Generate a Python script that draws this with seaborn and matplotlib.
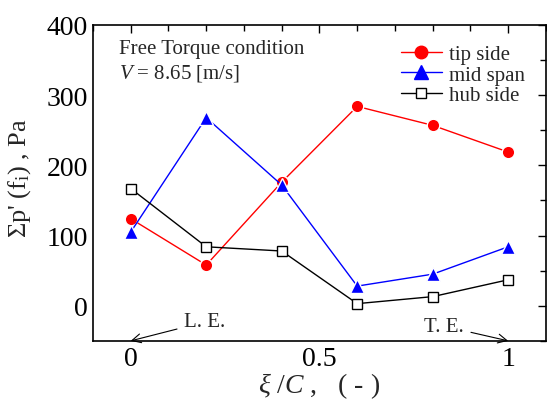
import matplotlib
matplotlib.use("Agg")
import matplotlib.pyplot as plt
import seaborn as sns
import pandas as pd
from matplotlib.ticker import MultipleLocator
from matplotlib.lines import Line2D

xi = [0.0, 0.2, 0.4, 0.6, 0.8, 1.0]
tip_side = [124, 58, 176, 284, 257, 219]
mid_span = [105, 268, 172, 28, 45, 84]
hub_side = [167, 84, 78, 3, 13, 37]
series_names = ["tip side", "mid span", "hub side"]

sns.set_style("white")
plt.rcParams["font.family"] = ["Liberation Serif", "DejaVu Serif"]
plt.rcParams["mathtext.fontset"] = "custom"
plt.rcParams["mathtext.rm"] = "Liberation Serif"
plt.rcParams["mathtext.it"] = "Liberation Serif:italic"

df = pd.DataFrame({
    "xi": xi * 3,
    "val": tip_side + mid_span + hub_side,
    "series": [series_names[0]] * 6 + [series_names[1]] * 6 + [series_names[2]] * 6,
})

fig = plt.figure(figsize=(5.47, 4.06), dpi=100)
ax = fig.add_axes([0.170, 0.158, 0.828, 0.778])

palette = {"tip side": "#ff0000", "mid span": "#0000ff", "hub side": "#000000"}
markers = {"tip side": "o", "mid span": "^", "hub side": "s"}
sns.lineplot(data=df, x="xi", y="val", hue="series", style="series",
             palette=palette, markers=markers, dashes=False, ax=ax,
             linewidth=1.0, legend=False)

msize = {"o": 9, "^": 9.5, "s": 7.5}
for line in ax.lines:
    m = line.get_marker()
    if m in msize:
        line.set_markersize(msize[m])
        line.set_markeredgewidth(1.0)
    if m == "s":
        line.set_markerfacecolor("white")
        line.set_markeredgecolor("black")

handles = [
    Line2D([], [], color="#ff0000", marker="o", markersize=9, lw=1.0),
    Line2D([], [], color="#0000ff", marker="^", markersize=9.5, lw=1.0),
    Line2D([], [], color="black", marker="s", markersize=7.5, lw=1.0,
           markerfacecolor="white"),
]
ax.legend(handles, series_names, loc="upper right", bbox_to_anchor=(0.985, 0.985),
          frameon=False, fontsize=15, handlelength=2.0, handletextpad=0.3,
          labelspacing=0.05, borderaxespad=0.3)

ax.set_xlim(-0.1, 1.1)
ax.set_ylim(-50, 400)
ax.xaxis.set_major_locator(MultipleLocator(0.5))
ax.xaxis.set_minor_locator(MultipleLocator(0.1))
ax.yaxis.set_major_locator(MultipleLocator(100))
ax.yaxis.set_minor_locator(MultipleLocator(50))
ax.set_xticks([0, 0.5, 1])
ax.set_xticklabels(["0", "0.5", "1"])
ax.tick_params(which="both", direction="in", top=True, right=True,
               labelsize=20, width=1.0, colors="black")
ax.tick_params(which="major", length=6)
ax.tick_params(which="minor", length=4)
for s in ax.spines.values():
    s.set_color("black")
    s.set_linewidth(1.2)

ax.set_xlabel(r"$\xi$ /$C$ ,   ( - )", fontsize=20, labelpad=0)
ax.set_ylabel(r"Σp' (f$_\mathrm{i}$) , Pa", fontsize=19)
ax.yaxis.set_label_coords(-0.133, 0.52)

ax.text(-0.03, 380, "Free Torque condition", fontsize=15, va="top", ha="left")
ax.text(-0.03, 347, r"$V$ = 8.65 [m/s]", fontsize=15, va="top", ha="left")

ax.annotate("L. E.", xy=(0.0, -50), xytext=(0.142, -23), fontsize=15,
            ha="left", va="center",
            arrowprops=dict(arrowstyle="->", color="black", lw=0.8,
                            shrinkA=3, shrinkB=0, mutation_scale=16))
ax.annotate("T. E.", xy=(1.0, -50), xytext=(0.882, -29), fontsize=15,
            ha="right", va="center",
            arrowprops=dict(arrowstyle="->", color="black", lw=0.8,
                            shrinkA=3, shrinkB=0, mutation_scale=16))

fig.savefig("out.png", dpi=100)
